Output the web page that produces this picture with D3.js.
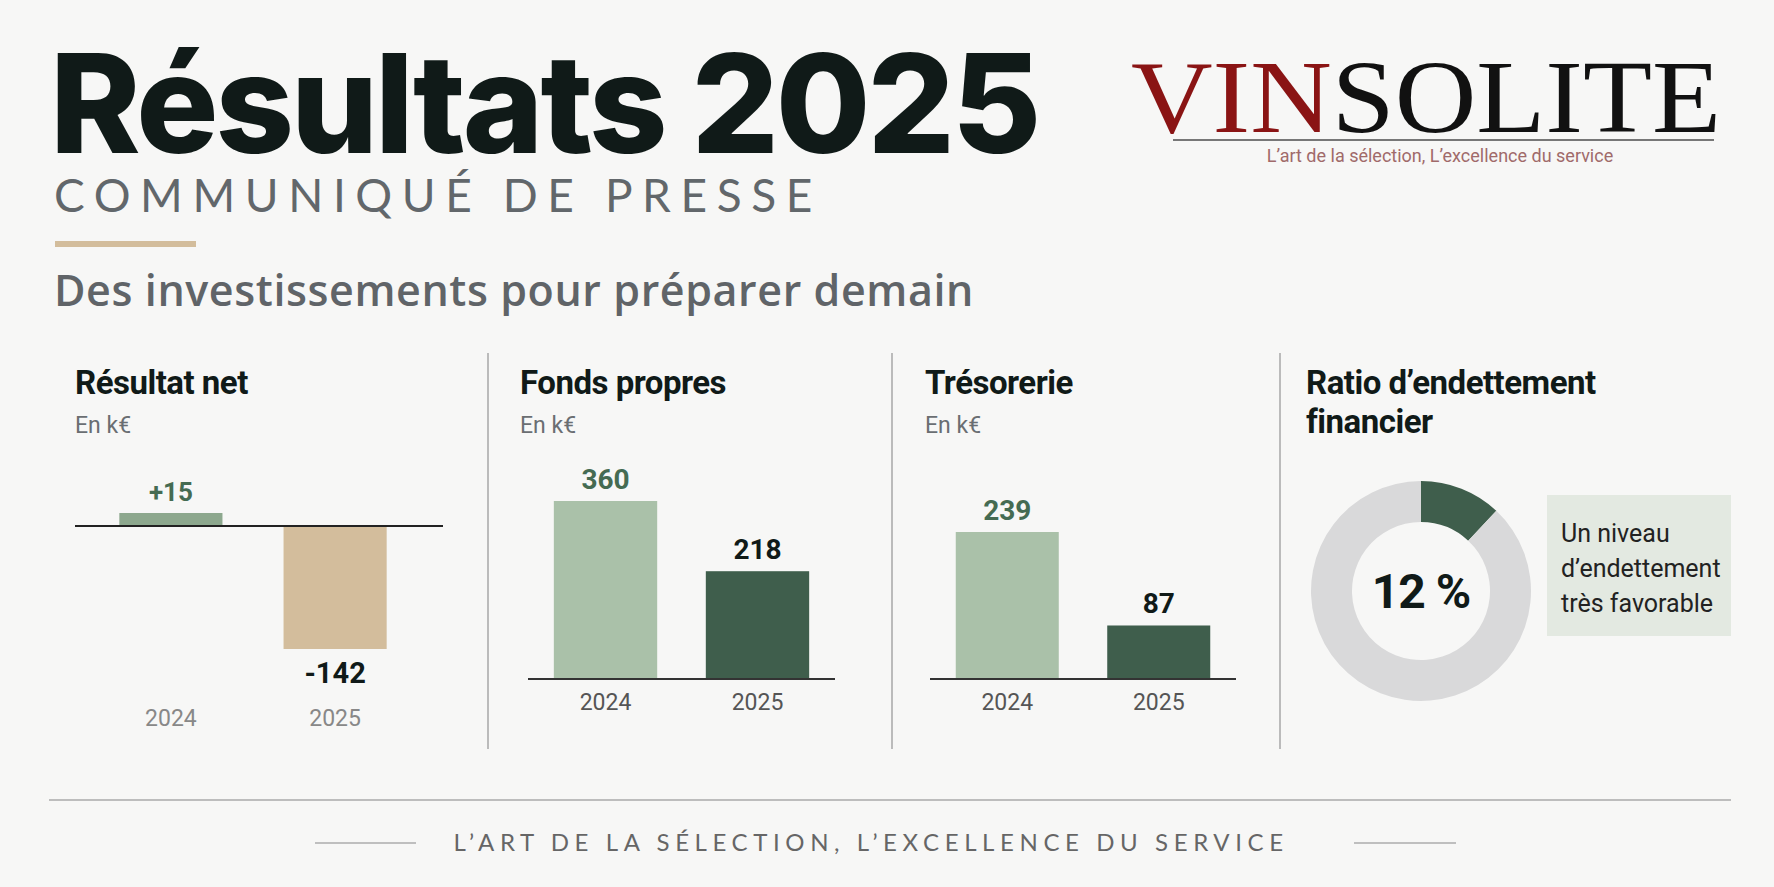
<!DOCTYPE html>
<html><head><meta charset="utf-8">
<script src="https://cdn.jsdelivr.net/npm/d3@7"></script>
<style>body{margin:0;background:#f7f7f6}svg{display:block}</style>
</head><body>
<script>
const years = ["2024","2025"];
const resultatNet = [15, -142];
const resultatLabels = ["+15","-142"];
const fondsPropres = [360, 218];
const tresorerie = [239, 87];
const ratioEndettement = 12;
const panelTitles = ["Résultat net","Fonds propres","Trésorerie"];

const W=1774,H=887;
const svg=d3.select("body").append("svg").attr("width",W).attr("height",H);
svg.append("rect").attr("width",W).attr("height",H).attr("fill","#f7f7f6");

const dark="#101a18", grey="#62676b", dg="#3f5e4c", lg="#aac1a9", tan="#d3bd9c", mg="#8da88e", lblG="#456b52";

// Header
svg.append("text").attr("x",50).attr("y",153).attr("font-family","Inter").attr("font-weight",800)
 .attr("font-size",137).attr("letter-spacing",-3).attr("fill",dark).text("Résultats 2025");
svg.append("text").attr("x",54).attr("y",212).attr("font-family","Lato").attr("font-weight",400)
 .attr("font-size",46).attr("letter-spacing",9.6).attr("fill",grey).text("COMMUNIQUÉ DE PRESSE");
svg.append("rect").attr("x",55).attr("y",241).attr("width",141).attr("height",6).attr("fill",tan);
svg.append("text").attr("x",54).attr("y",306).attr("font-family","Open Sans").attr("font-weight",600)
 .attr("font-size",43).attr("letter-spacing",0.6).attr("fill","#606468").text("Des investissements pour préparer demain");

// Logo
const logo=svg.append("text").attr("x",1131).attr("y",132).attr("font-family","Liberation Serif")
 .attr("font-size",104).attr("textLength",590).attr("lengthAdjust","spacingAndGlyphs");
logo.append("tspan").attr("fill","#8a1414").text("VIN");
logo.append("tspan").attr("fill","#111").text("SOLITE");
svg.append("line").attr("x1",1173).attr("x2",1714).attr("y1",140).attr("y2",140).attr("stroke","#777").attr("stroke-width",2);
svg.append("text").attr("x",1440).attr("y",162).attr("text-anchor","middle").attr("font-family","Roboto")
 .attr("font-size",18).attr("fill","#a06a6a").text("L’art de la sélection, L’excellence du service");

// Dividers
[488,892,1280].forEach(x=>svg.append("line").attr("x1",x).attr("x2",x).attr("y1",353).attr("y2",749).attr("stroke","#bbb").attr("stroke-width",2));

function titles(x,t,sub){
  svg.append("text").attr("x",x).attr("y",394).attr("font-family","Roboto").attr("font-weight",700)
   .attr("font-size",33).attr("letter-spacing",-0.5).attr("fill",dark).text(t);
  if(sub) svg.append("text").attr("x",x).attr("y",433).attr("font-family","Roboto")
   .attr("font-size",23).attr("fill","#6a6e72").text(sub);
}
const fnt="Roboto";
// Panel 1
titles(75,panelTitles[0],"En k€");
{
  const x=d3.scaleBand().domain(years).range([75,431]).paddingInner(0.372).paddingOuter(0.27);
  const y=d3.scaleLinear().domain([-142,0]).range([649,526]);
  const g=svg.append("g");
  g.selectAll("rect").data(resultatNet).join("rect")
   .attr("x",(d,i)=>x(years[i])).attr("width",x.bandwidth())
   .attr("y",d=>y(Math.max(0,d))).attr("height",d=>Math.abs(y(d)-y(0)))
   .attr("fill",(d,i)=>i?tan:mg);
  svg.append("line").attr("x1",75).attr("x2",443).attr("y1",y(0)).attr("y2",y(0)).attr("stroke","#222").attr("stroke-width",2);
  g.selectAll(".v").data(resultatNet).join("text").attr("text-anchor","middle")
   .attr("x",(d,i)=>x(years[i])+x.bandwidth()/2).attr("y",d=>d>0?y(d)-12:y(d)+34)
   .attr("font-family",fnt).attr("font-weight",700).attr("font-size",d=>d>0?26:29)
   .attr("fill",d=>d>0?lblG:dark).text((d,i)=>resultatLabels[i]);
  g.selectAll(".yr").data(years).join("text").attr("text-anchor","middle")
   .attr("x",d=>x(d)+x.bandwidth()/2).attr("y",726).attr("font-family",fnt).attr("font-size",23)
   .attr("fill","#888").text(d=>d);
}
function barPanel(x0,x1,tx,vals,title,top){
  titles(tx,title,"En k€");
  const x=d3.scaleBand().domain(years).range([x0,x1]).paddingInner(0.32).paddingOuter(0.17);
  const y=d3.scaleLinear().domain([0,d3.max(vals)]).range([679,top]);
  const g=svg.append("g");
  g.selectAll("rect").data(vals).join("rect").attr("x",(d,i)=>x(years[i])).attr("width",x.bandwidth())
   .attr("y",d=>y(d)).attr("height",d=>y(0)-y(d)).attr("fill",(d,i)=>i?dg:lg);
  svg.append("line").attr("x1",x0).attr("x2",x1).attr("y1",679).attr("y2",679).attr("stroke","#333").attr("stroke-width",2);
  g.selectAll(".v").data(vals).join("text").attr("text-anchor","middle")
   .attr("x",(d,i)=>x(years[i])+x.bandwidth()/2).attr("y",d=>y(d)-12)
   .attr("font-family",fnt).attr("font-weight",700).attr("font-size",28)
   .attr("fill",(d,i)=>i?dark:lblG).text(d=>d);
  g.selectAll(".yr").data(years).join("text").attr("text-anchor","middle")
   .attr("x",d=>x(d)+x.bandwidth()/2).attr("y",710).attr("font-family",fnt).attr("font-size",23)
   .attr("fill","#555").text(d=>d);
}
barPanel(528,835,520,fondsPropres,panelTitles[1],501);
barPanel(930,1236,925,tresorerie,panelTitles[2],532);

// Donut
svg.append("text").attr("x",1306).attr("y",394).attr("font-family","Roboto").attr("font-weight",700)
 .attr("font-size",33).attr("letter-spacing",-0.5).attr("fill",dark)
 .selectAll("tspan").data(["Ratio d’endettement","financier"]).join("tspan")
 .attr("x",1306).attr("dy",(d,i)=>i?39:0).text(d=>d);
const pie=d3.pie().sort(null)([ratioEndettement,100-ratioEndettement]);
const arc=d3.arc().innerRadius(69).outerRadius(110);
svg.append("g").attr("transform","translate(1421,591)").selectAll("path").data(pie).join("path")
 .attr("d",arc).attr("fill",(d,i)=>i?"#d9d9da":dg);
svg.append("text").attr("x",1421).attr("y",608).attr("text-anchor","middle").attr("font-family","Roboto")
 .attr("font-weight",700).attr("font-size",48).attr("letter-spacing",-1).attr("fill",dark).text(ratioEndettement+" %");
svg.append("rect").attr("x",1547).attr("y",495).attr("width",184).attr("height",141).attr("fill","#e3e9e1");
svg.append("text").attr("font-family","Liberation Sans Narrow, Roboto").attr("font-size",25).attr("fill","#222")
 .selectAll("tspan").data(["Un niveau","d’endettement","très favorable"]).join("tspan")
 .attr("x",1561).attr("y",(d,i)=>542+i*35).text(d=>d);

// Footer
svg.append("line").attr("x1",49).attr("x2",1731).attr("y1",800).attr("y2",800).attr("stroke","#aaa").attr("stroke-width",1.5);
[[315,416],[1354,1456]].forEach(([a,b])=>svg.append("line").attr("x1",a).attr("x2",b).attr("y1",843).attr("y2",843).attr("stroke","#888").attr("stroke-width",1.2));
svg.append("text").attr("x",871).attr("y",851).attr("text-anchor","middle").attr("font-family","Lato")
 .attr("font-size",24).attr("letter-spacing",5.6).attr("fill","#666").text("L’ART DE LA SÉLECTION, L’EXCELLENCE DU SERVICE");
</script>
</body></html>
